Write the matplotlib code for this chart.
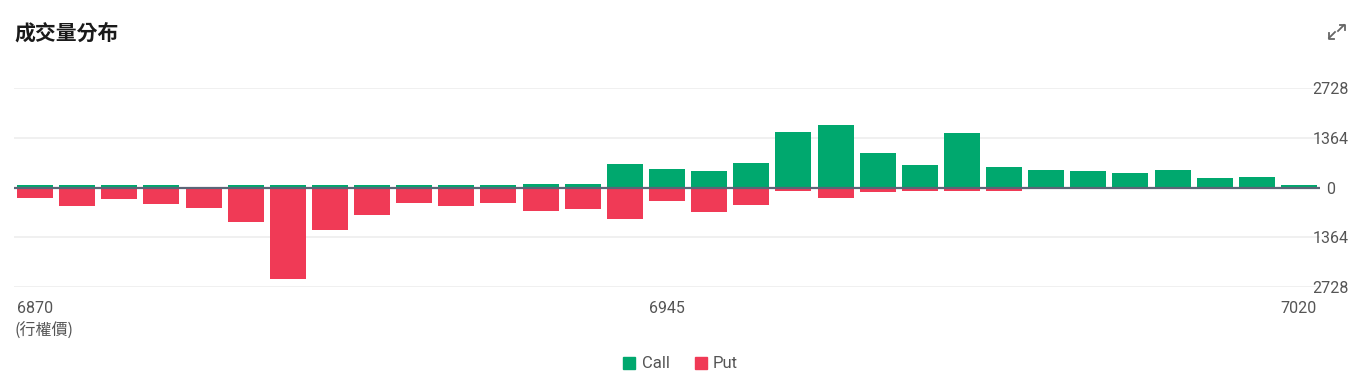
import matplotlib
matplotlib.use("Agg")
import matplotlib.pyplot as plt
from matplotlib.patches import Rectangle

# ---- data ----
strikes = list(range(6870, 7021, 5))
call_volume = [55, 55, 55, 55, 0, 55, 55, 55, 55, 55, 55, 74, 101, 101, 654, 498,
               461, 682, 1521, 1705, 931, 617, 1493, 571, 488, 461, 387, 488, 258, 295, 55]
put_volume = [276, 507, 304, 452, 553, 931, 2510, 1160, 760, 415, 507, 415, 636, 581, 857, 359,
              682, 488, 101, 286, 110, 101, 101, 101, 0, 0, 0, 0, 0, 0, 0]
y_ticks = [-2728, -1364, 0, 1364, 2728]
y_tick_labels = ["2728", "1364", "0", "1364", "2728"]
x_tick_labels = ["6870", "6945", "7020"]
title = "成交量分布"
x_axis_label = "(行權價)"
series_names = ["Call", "Put"]

GREEN = "#00A86E"
RED = "#F03A56"
TEXT = "#555555"

W, H = 1365, 378
fig = plt.figure(figsize=(W / 100, H / 100), dpi=100)
fig.patch.set_facecolor("white")

left, right = 14, 1320
top, bottom = 87.7, 287.3
ax = fig.add_axes([left / W, 1 - bottom / H, (right - left) / W, (bottom - top) / H])

idx = list(range(len(strikes)))
ax.bar(idx, call_volume, width=0.855, color=GREEN, zorder=2)
ax.bar(idx, [-v for v in put_volume], width=0.855, color=RED, zorder=2)

ax.set_xlim(-0.5, len(strikes) - 0.5)
ax.set_ylim(-2728, 2728)

for s in ax.spines.values():
    s.set_visible(False)

for yv in y_ticks:
    if yv != 0:
        ax.axhline(yv, color="#efefef", lw=1.3, zorder=0)
ax.axhline(0, color="#5c6577", lw=1.6, zorder=3)

ax.yaxis.tick_right()
ax.set_yticks(y_ticks)
ax.set_yticklabels(y_tick_labels, fontsize=11.5, color=TEXT, family="Roboto")
ax.tick_params(axis="y", length=0, pad=7.5)
for lab in ax.get_yticklabels():
    lab.set_ha("center")

tick_pos = [strikes.index(int(t)) for t in x_tick_labels]
ax.set_xticks(tick_pos)
ax.set_xticklabels(x_tick_labels, fontsize=11.5, color=TEXT, family="Roboto")
ax.tick_params(axis="x", length=0, pad=10)

fig.text(14 / W, 1 - 33 / H, title, fontsize=15, color="#1a1a1a",
         family=["Noto Sans CJK TC", "DejaVu Sans"], va="center", ha="left", weight="bold")
fig.text(14 / W, 1 - 331.5 / H, x_axis_label, fontsize=11.5, color=TEXT,
         family=["Noto Sans CJK TC", "DejaVu Sans"], va="center", ha="left")

# expand icon
icon_c = "#666666"
fig.add_artist(plt.Line2D([1338 / W, 1344 / W], [1 - 31 / H, 1 - 25 / H], color=icon_c, lw=1.3, transform=fig.transFigure))
fig.add_artist(plt.Line2D([1340 / W, 1345 / W, 1345 / W], [1 - 24.5 / H, 1 - 24.5 / H, 1 - 29.5 / H], color=icon_c, lw=1.3, transform=fig.transFigure))
fig.add_artist(plt.Line2D([1329 / W, 1335 / W], [1 - 38 / H, 1 - 32 / H], color=icon_c, lw=1.3, transform=fig.transFigure))
fig.add_artist(plt.Line2D([1328.5 / W, 1328.5 / W, 1333.5 / W], [1 - 33 / H, 1 - 38.5 / H, 1 - 38.5 / H], color=icon_c, lw=1.3, transform=fig.transFigure))

# legend
for (x0, name, col, tx) in [(623, series_names[0], GREEN, 642), (695, series_names[1], RED, 713)]:
    fig.add_artist(Rectangle((x0 / W, 1 - 369 / H), 12 / W, 12 / H, color=col, transform=fig.transFigure))
    fig.text(tx / W, 1 - 364 / H, name, fontsize=12, color=TEXT, family="Roboto", va="center", ha="left")

fig.savefig("out.png", dpi=100)
